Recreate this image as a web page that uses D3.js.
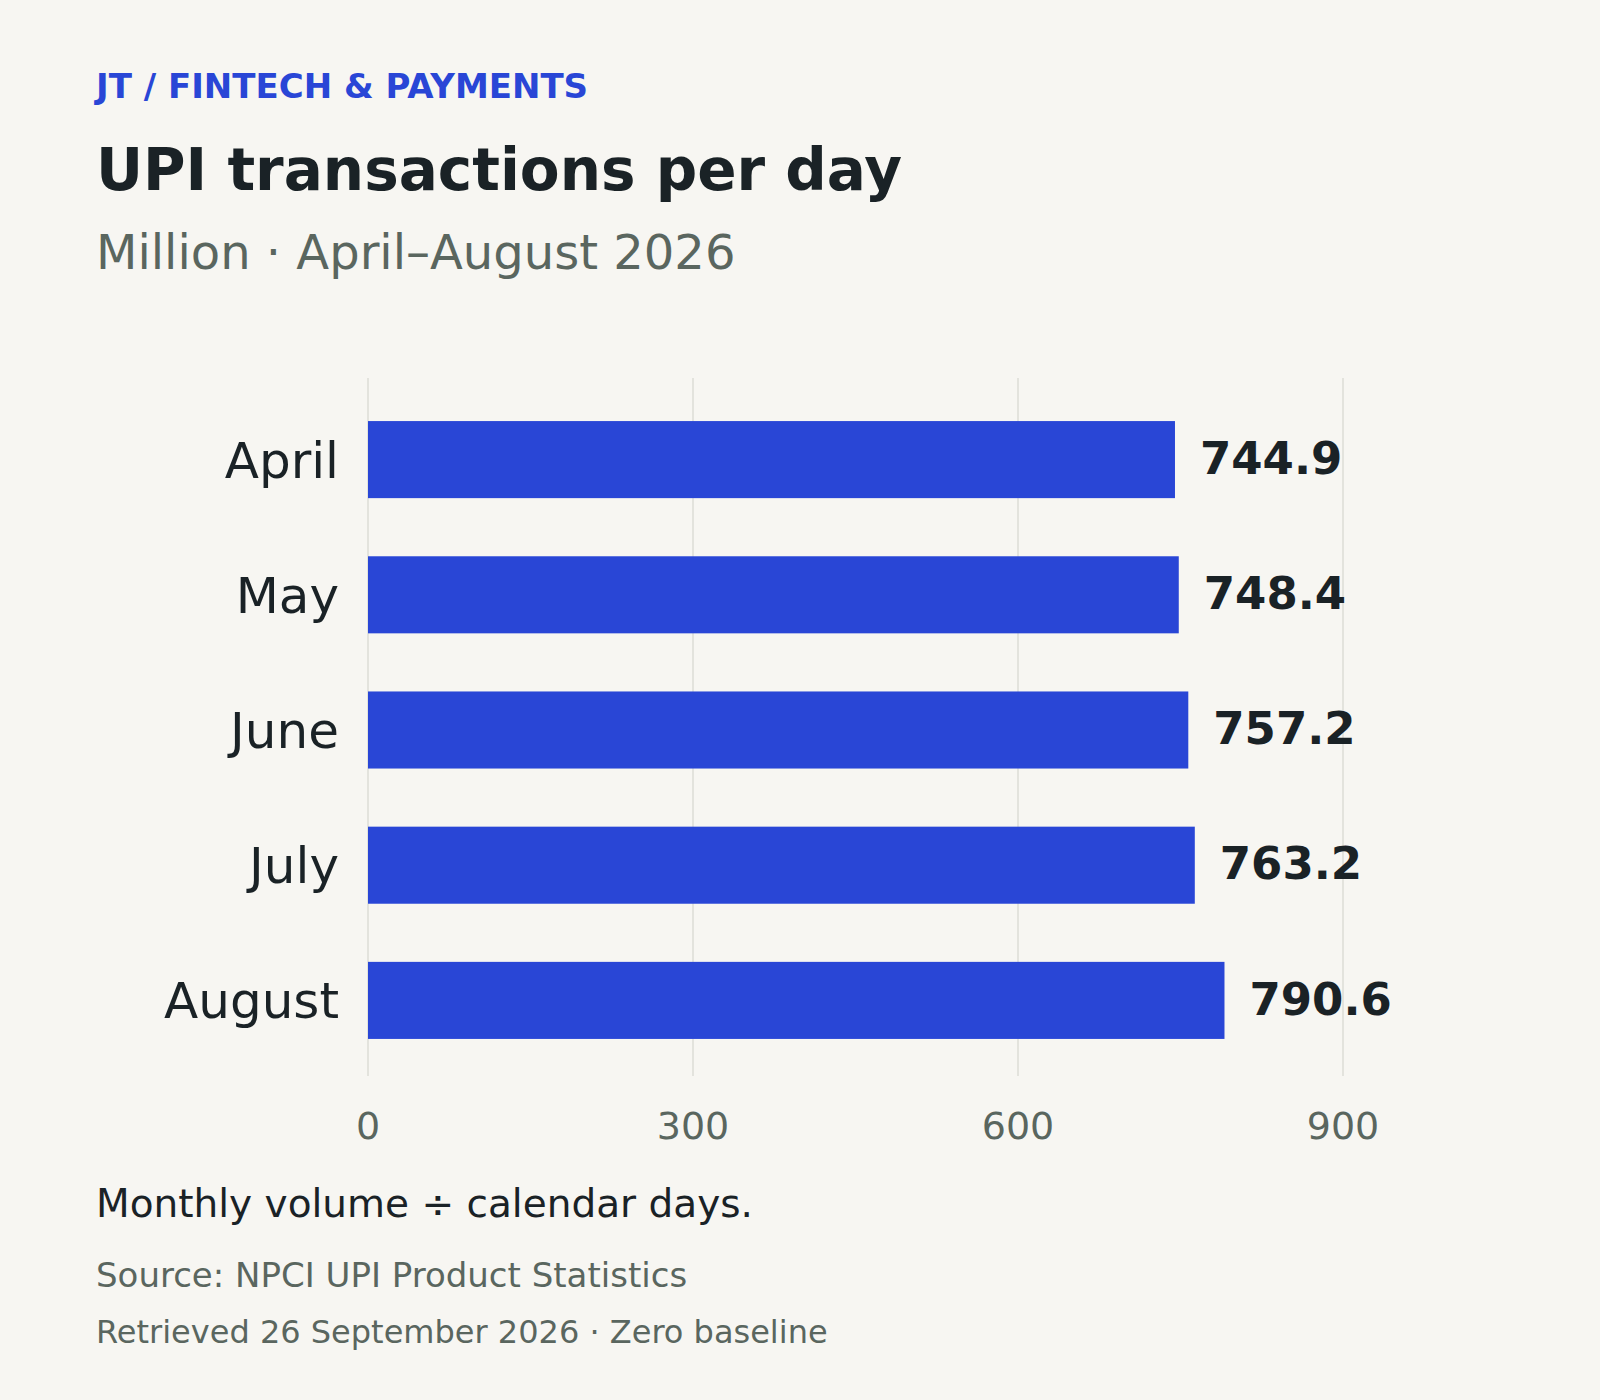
<!DOCTYPE html>
<html><head><meta charset="utf-8">
<script src="https://cdn.jsdelivr.net/npm/d3@7"></script>
<style>html,body{margin:0;background:#f7f6f2}svg{display:block;font-family:"DejaVu Sans",sans-serif}</style>
</head><body>
<script>
const categories=["April","May","June","July","August"];
const values=[744.9,748.4,757.2,763.2,790.6];
const ticks=[0,300,600,900];
const W=1600,H=1400;
const svg=d3.select("body").append("svg").attr("width",W).attr("height",H);
svg.append("rect").attr("width",W).attr("height",H).attr("fill","#f7f6f2");
const x=d3.scaleLinear().domain([0,900]).range([368,1343]);
const y=d3.scaleBand().domain(categories).range([392,1068]).paddingInner(0.43).paddingOuter(0.215);
svg.append("text").attr("x",96).attr("y",98).attr("font-size",34).attr("font-weight","bold").attr("fill","#2946d6").text("JT / FINTECH & PAYMENTS");
svg.append("text").attr("x",96).attr("y",190).attr("font-size",58).attr("font-weight","bold").attr("fill","#1a2226").text("UPI transactions per day");
svg.append("text").attr("x",96).attr("y",269).attr("font-size",48).attr("fill","#5a665f").text("Million · April–August 2026");
const g=svg.append("g");
g.selectAll("line.grid").data(ticks).join("line").attr("x1",d=>x(d)).attr("x2",d=>x(d)).attr("y1",378).attr("y2",1076).attr("stroke","#dcdcd6").attr("stroke-width",1.5);
g.selectAll("text.tick").data(ticks).join("text").attr("x",d=>x(d)).attr("y",1139).attr("text-anchor","middle").attr("font-size",38).attr("fill","#5a665f").text(d=>d);
g.selectAll("rect.bar").data(values).join("rect").attr("x",x(0)).attr("y",(d,i)=>y(categories[i])).attr("width",d=>x(d)-x(0)).attr("height",y.bandwidth()).attr("fill","#2946d6");
g.selectAll("text.cat").data(categories).join("text").attr("x",339).attr("y",d=>y(d)+y.bandwidth()/2).attr("dy","0.36em").attr("text-anchor","end").attr("font-size",50).attr("fill","#1a2226").text(d=>d);
g.selectAll("text.val").data(values).join("text").attr("x",d=>x(d)+25).attr("y",(d,i)=>y(categories[i])+y.bandwidth()/2-2).attr("dy","0.36em").attr("font-size",45).attr("font-weight","bold").attr("fill","#1a2226").text(d=>d.toFixed(1));
svg.append("text").attr("x",96).attr("y",1217).attr("font-size",39).attr("fill","#1a2226").text("Monthly volume ÷ calendar days.");
svg.append("text").attr("x",96).attr("y",1287).attr("font-size",34).attr("fill","#5a665f").text("Source: NPCI UPI Product Statistics");
svg.append("text").attr("x",96).attr("y",1343).attr("font-size",32).attr("fill","#5a665f").text("Retrieved 26 September 2026 · Zero baseline");
</script>
</body></html>
